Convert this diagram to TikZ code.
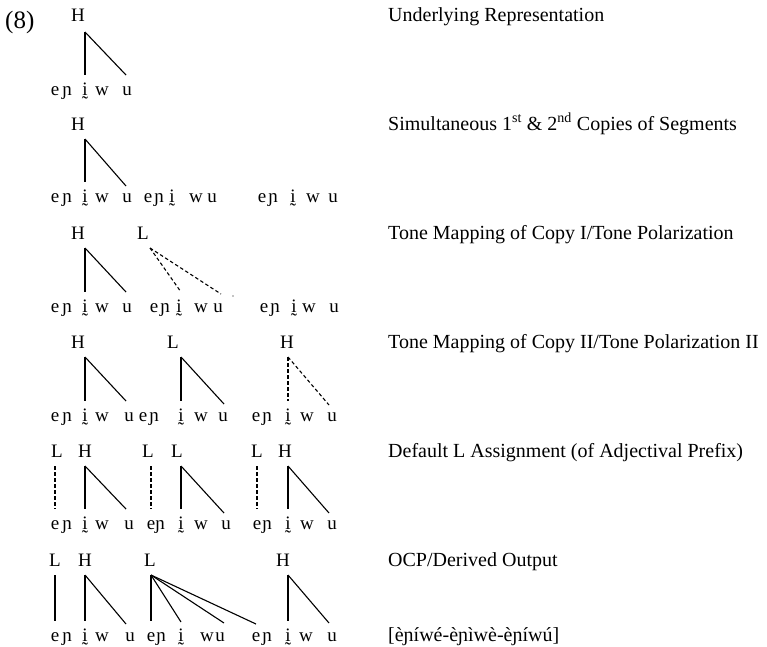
\documentclass[tikz,border=0pt]{standalone}
\usepackage{fontspec}
\setmainfont{Liberation Serif}
\newcommand\seggrp[7]{%
  \node[seg] (#1e) at (#3,#2) {e};
  \node[seg] (#1n) at (#4,#2) {ɲ};
  \node[seg] (#1i) at (#5,#2) {ḭ};
  \node[seg] (#1w) at (#6,#2) {w};
  \node[seg] (#1u) at (#7,#2) {u};}
\begin{document}
\begin{tikzpicture}[x=1pt,y=-1pt,
  tone/.style={font=\fontsize{19}{19}\selectfont, inner sep=0pt, text height=13pt, text depth=0pt, outer ysep=9pt, anchor=base},
  seg/.style={font=\fontsize{19}{19}\selectfont, inner sep=0pt, text height=13pt, text depth=5pt, outer ysep=7pt, anchor=base},
  lbl/.style={font=\fontsize{20}{20}\selectfont, inner sep=0pt, anchor=base west},
  assoc/.style={line width=1.1pt},
  dassoc/.style={line width=1.1pt, dash pattern=on 3.5pt off 2.5pt}]
\useasboundingbox (0,0) rectangle (767,646);
\node[font=\fontsize{25}{25}\selectfont, inner sep=0pt, anchor=base west] (num) at (5,28) {(8)};
% labels
\node[lbl] (lab1) at (388,21) {Underlying Representation};
\node[lbl] (lab2) at (388,130) {Simultaneous 1\textsuperscript{st} \& 2\textsuperscript{nd} Copies of Segments};
\node[lbl] (lab3) at (388,239) {Tone Mapping of Copy I/Tone Polarization};
\node[lbl] (lab4) at (388,348) {Tone Mapping of Copy II/Tone Polarization II};
\node[lbl] (lab5) at (388,457) {Default L Assignment (of Adjectival Prefix)};
\node[lbl] (lab6) at (388,566) {OCP/Derived Output};
\node[lbl] (lab7) at (388,641) {[èɲíwé-èɲìwè-èɲíwú]};
% row 1
\node[tone] (h1) at (78,21) {H};
\seggrp{s1a}{95}{55}{67}{85}{102}{127}
\draw[assoc] ([xshift=7pt,yshift=-2pt]h1.south) -- (s1ai.north);
\draw[assoc] ([xshift=7pt,yshift=-2pt]h1.south) -- ([xshift=-1pt]s1au.north);
% row 2
\node[tone] (h2) at (78,130) {H};
\seggrp{s2a}{202}{55}{67}{85}{102}{127}
\seggrp{s2b}{202}{148}{159}{172}{196}{212}
\seggrp{s2c}{202}{262}{273}{293}{313}{333}
\draw[assoc] ([xshift=7pt]h2.south) -- (s2ai.north);
\draw[assoc] ([xshift=7pt]h2.south) -- ([xshift=-1pt,yshift=-4pt]s2au.north);
% row 3
\node[tone] (h3) at (78,239) {H};
\node[tone] (l3) at (143,239) {L};
\seggrp{s3a}{312}{55}{67}{85}{102}{127}
\seggrp{s3b}{312}{154}{165}{179}{201}{218}
\seggrp{s3c}{312}{264}{275}{294}{309}{334}
\draw[assoc] ([xshift=7pt]h3.south) -- (s3ai.north);
\draw[assoc] ([xshift=7pt]h3.south) -- ([xshift=-1pt]s3au.north);
\draw[dassoc] ([xshift=7pt]l3.south) -- ([xshift=2pt]s3bi.north);
\draw[dassoc] ([xshift=7pt]l3.south) -- ([xshift=3pt,yshift=-2pt]s3bu.north);
\fill ([xshift=15pt,yshift=-4pt]s3bu.north) circle (0.6pt);
% row 4
\node[tone] (h4a) at (78,348) {H};
\node[tone] (l4b) at (173,348) {L};
\node[tone] (h4c) at (287,348) {H};
\seggrp{s4a}{421}{55}{67}{85}{102}{129}
\seggrp{s4b}{421}{143}{154}{181}{201}{223}
\seggrp{s4c}{421}{256}{267}{288}{307}{332}
\draw[assoc] ([xshift=7pt]h4a.south) -- (s4ai.north);
\draw[assoc] ([xshift=7pt]h4a.south) -- ([xshift=-3pt]s4au.north);
\draw[assoc] ([xshift=8pt]l4b.south) -- (s4bi.north);
\draw[assoc] ([xshift=8pt]l4b.south) -- ([xshift=1pt,yshift=-3pt]s4bu.north);
\draw[dassoc] ([xshift=1pt]h4c.south) -- (s4ci.north);
\draw[dassoc] ([xshift=1pt]h4c.south) -- ([xshift=-3pt,yshift=-4pt]s4cu.north);
% row 5
\node[tone] (l5a) at (57,457) {L};
\node[tone] (h5a) at (85,457) {H};
\node[tone] (l5b) at (148,457) {L};
\node[tone] (l5c) at (177,457) {L};
\node[tone] (l5d) at (257,457) {L};
\node[tone] (h5e) at (285,457) {H};
\seggrp{s5a}{529}{55}{67}{85}{102}{129}
\seggrp{s5b}{529}{151}{160}{181}{201}{226}
\seggrp{s5c}{529}{257}{267}{288}{307}{332}
\draw[dassoc] ([xshift=-2pt]l5a.south) -- (s5ae.north);
\draw[dassoc] ([xshift=3pt]l5b.south) -- (s5be.north);
\draw[dassoc] (l5d.south) -- (s5ce.north);
\draw[assoc] (h5a.south) -- (s5ai.north);
\draw[assoc] (h5a.south) -- ([xshift=-3pt]s5au.north);
\draw[assoc] ([xshift=4pt]l5c.south) -- (s5bi.north);
\draw[assoc] ([xshift=4pt]l5c.south) -- ([xshift=-2pt,yshift=-4pt]s5bu.north);
\draw[assoc] ([xshift=3pt]h5e.south) -- (s5ci.north);
\draw[assoc] ([xshift=3pt]h5e.south) -- ([xshift=-3pt,yshift=-4pt]s5cu.north);
% row 6
\node[tone] (l6a) at (55,566) {L};
\node[tone] (h6a) at (85,566) {H};
\node[tone] (l6b) at (150,566) {L};
\node[tone] (h6c) at (283,566) {H};
\seggrp{s6a}{641}{55}{67}{85}{102}{130}
\seggrp{s6b}{641}{151}{161}{181}{207}{220}
\seggrp{s6c}{641}{256}{267}{288}{306}{332}
\draw[assoc] (l6a.south) -- (s6ae.north);
\draw[assoc] (h6a.south) -- (s6ai.north);
\draw[assoc] (h6a.south) -- ([xshift=-4pt,yshift=-3pt]s6au.north);
\draw[assoc] ([xshift=1pt]l6b.south) -- (s6be.north);
\draw[assoc] ([xshift=1pt]l6b.south) -- ([yshift=-1pt]s6bi.north);
\draw[assoc] ([xshift=1pt]l6b.south) -- ([xshift=4pt,yshift=-2pt]s6bu.north);
\draw[assoc] ([xshift=1pt]l6b.south) -- ([yshift=-3pt]s6ce.north);
\draw[assoc] ([xshift=5pt]h6c.south) -- (s6ci.north);
\draw[assoc] ([xshift=5pt]h6c.south) -- ([xshift=-3pt,yshift=-2pt]s6cu.north);
\end{tikzpicture}
\end{document}
